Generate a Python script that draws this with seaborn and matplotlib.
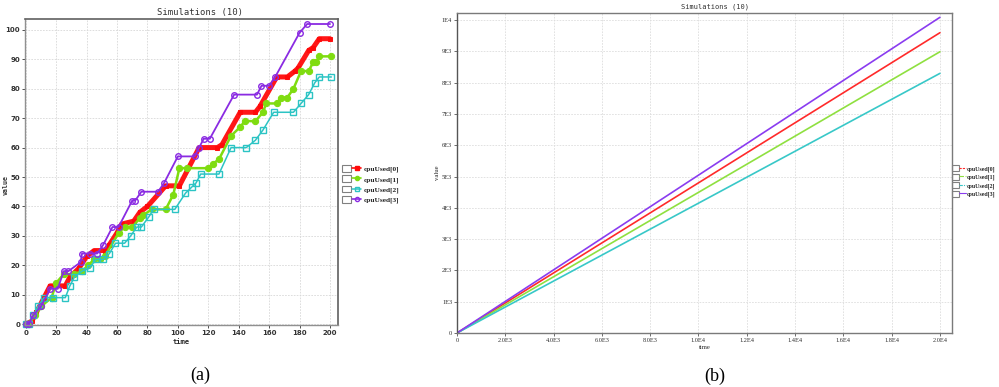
import matplotlib
matplotlib.use("Agg")
import matplotlib.pyplot as plt
import seaborn as sns
import pandas as pd
from matplotlib.patches import Rectangle
from matplotlib.lines import Line2D
from matplotlib.legend_handler import HandlerTuple

# ---------------- data: panel (a) ----------------
series_names = ["cpuUsed[0]", "cpuUsed[1]", "cpuUsed[2]", "cpuUsed[3]"]

t0 = [0, 4, 7, 12, 16, 26, 29, 35, 40, 45, 52, 55, 60, 63, 71, 75, 80, 92, 101,
      114, 126, 129, 141, 151, 154, 165, 172, 177, 179, 186, 189, 193, 200]
v0 = [0, 1, 4, 9, 13, 13, 16, 19, 23, 25, 25, 27, 31, 34, 35, 38, 40, 47, 47,
      60, 60, 61, 72, 72, 74, 84, 84, 86, 87, 93, 94, 97, 97]

t1 = [0, 2, 6, 10, 17, 20, 25, 32, 37, 41, 45, 49, 52, 61, 65, 70, 75, 77, 83, 92,
      97, 101, 106, 120, 123, 127, 135, 141, 144, 151, 156, 158, 165, 168, 172,
      176, 181, 186, 189, 191, 193, 201]
v1 = [0, 0, 3, 6, 9, 14, 17, 17, 18, 20, 22, 22, 23, 31, 33, 33, 36, 37, 39, 39,
      44, 53, 53, 53, 54.5, 56, 64, 67, 69, 69, 72, 75, 75, 77, 77,
      80, 86, 86, 89, 89, 91, 91]

t2 = [0, 2, 5, 8, 12, 18, 26, 29, 32, 37, 42, 46, 51, 55, 59, 65, 69, 73, 76, 81,
      84, 98, 105, 109, 112, 115, 127, 135, 145, 151, 156, 163, 176, 181, 186,
      190, 193, 201]
v2 = [0, 0, 3, 6, 9, 9, 9, 13, 16, 18, 19, 22, 22, 24, 27.5, 27.5, 30, 33, 33, 36.5,
      39, 39, 44.5, 46.5, 48, 51, 51, 60, 60, 62.5, 66, 72, 72, 75, 78,
      82, 84, 84]

t3 = [0, 2, 5, 10, 16, 21, 25, 28, 36, 37, 42, 47, 51, 57, 61, 70, 72, 76, 87, 91,
      100, 111, 114, 117, 121, 137, 152, 155, 160, 164, 180, 185, 200]
v3 = [0, 0, 3, 6, 12, 12, 18, 18, 21, 24, 24, 24, 27, 33, 33, 42, 42, 45, 45, 48,
      57, 57, 60, 63, 63, 78, 78, 81, 81, 84, 99, 102, 102]

xticks_a = [0, 20, 40, 60, 80, 100, 120, 140, 160, 180, 200]
yticks_a = [0, 10, 20, 30, 40, 50, 60, 70, 80, 90, 100]

# ---------------- data: panel (b) ----------------
time_b = [0, 20000]
b0 = [0, 9594]
b1 = [0, 8986]
b2 = [0, 8295]
b3 = [0, 10086]

xticks_b = [0, 2000, 4000, 6000, 8000, 10000, 12000, 14000, 16000, 18000, 20000]
xlabels_b = ["0", "2.0E3", "4.0E3", "6.0E3", "8.0E3", "1.0E4", "1.2E4", "1.4E4",
             "1.6E4", "1.8E4", "2.0E4"]
yticks_b = [0, 1000, 2000, 3000, 4000, 5000, 6000, 7000, 8000, 9000, 10000]
ylabels_b = ["0", "1E3", "2E3", "3E3", "4E3", "5E3", "6E3", "7E3", "8E3", "9E3", "1E4"]

# ---------------- styling ----------------
sns.set_style("white")
plt.rcParams["font.family"] = ["DejaVu Sans"]

cols_a = ["#ff0a0a", "#7fdc10", "#2cc4c4", "#8a2be2"]
cols_b = ["#ff2a2a", "#8fe040", "#38c8c8", "#8a3cf0"]

fig = plt.figure(figsize=(9.99, 3.87), dpi=100)
ax_a = fig.add_axes([25 / 999, 1 - 325 / 387, 313 / 999, 306 / 387])
ax_b = fig.add_axes([457 / 999, 1 - 333 / 387, 495 / 999, 320 / 387])

# panel (a)
style_a = [
    dict(lw=3.6, marker="s", ms=2.5, mfc=cols_a[0], mec=cols_a[0], alpha=0.95),
    dict(lw=1.8, marker="o", ms=4.5, mfc=cols_a[1], mec=cols_a[1]),
    dict(lw=1.1, marker="s", ms=4.0, mfc="none", mec=cols_a[2], mew=1.0),
    dict(lw=1.3, marker="o", ms=4.0, mfc="none", mec=cols_a[3], mew=1.0),
]
for ts, vs, c, st in zip([t0, t1, t2, t3], [v0, v1, v2, v3], cols_a, style_a):
    df = pd.DataFrame({"time": ts, "value": vs})
    sns.lineplot(data=df, x="time", y="value", ax=ax_a, color=c,
                 estimator=None, sort=False, clip_on=False, **st)

ax_a.set_xlim(-0.5, 205.3)
ax_a.set_ylim(-0.3, 103.7)
ax_a.set_xticks(xticks_a)
ax_a.set_yticks(yticks_a)
ax_a.tick_params(axis="both", labelsize=5, length=2, width=0.6, pad=1.5,
                 colors="#333333", direction="out", bottom=True, left=True)
for lab in ax_a.get_xticklabels() + ax_a.get_yticklabels():
    lab.set_fontweight("bold")
ax_a.grid(True, color="#d8d8d8", lw=0.6, ls=(0, (2, 1.5)))
ax_a.set_xlabel("time", family="DejaVu Sans Mono", fontsize=5, fontweight="bold",
                labelpad=2)
ax_a.set_ylabel("")
fig.text(6 / 999, 1 - 185 / 387, "value", family="DejaVu Sans Mono", fontsize=4.8,
         fontweight="bold", rotation=90, ha="center", va="center", color="#333333")
for side in ["left", "bottom"]:
    ax_a.spines[side].set_color("#909090")
    ax_a.spines[side].set_linewidth(1.0)
for side in ["top", "right"]:
    ax_a.spines[side].set_color("#606060")
    ax_a.spines[side].set_linewidth(1.2)

handles_a = []
for c, st in zip(cols_a, style_a):
    box = Rectangle((0, 0), 1, 1, facecolor="none", edgecolor="#808080", lw=0.8)
    ln = Line2D([], [], color=c, lw=min(st["lw"], 1.2), marker=st["marker"],
                ms=3, mfc=st["mfc"], mec=st["mec"])
    handles_a.append((box, ln))
fig.legend(handles_a, series_names, loc="upper left",
           bbox_to_anchor=(337 / 999, 1 - 160 / 387), frameon=False,
           handler_map={tuple: HandlerTuple(ndivide=None)},
           prop={"family": "Liberation Serif", "weight": "bold", "size": 5.3},
           handlelength=2.6, handleheight=1.0, handletextpad=0.4,
           labelspacing=0.4, borderpad=0.2)

# panel (b)
for vs, c in zip([b0, b1, b2, b3], cols_b):
    df = pd.DataFrame({"time": time_b, "value": vs})
    sns.lineplot(data=df, x="time", y="value", ax=ax_b, color=c, lw=1.2,
                 estimator=None)

ax_b.set_xlim(0, 20500)
ax_b.set_ylim(0, 10224)
ax_b.set_xticks(xticks_b)
ax_b.set_xticklabels(xlabels_b)
ax_b.set_yticks(yticks_b)
ax_b.set_yticklabels(ylabels_b)
ax_b.tick_params(axis="both", labelsize=4.6, length=2, width=0.5, pad=1.5,
                 colors="#333333", direction="out", bottom=True, left=True)
for lab in ax_b.get_xticklabels() + ax_b.get_yticklabels():
    lab.set_family("Liberation Serif")
ax_b.grid(True, color="#dddddd", lw=0.6, ls=(0, (2, 1.5)))
ax_b.set_xlabel("time", family="Liberation Serif", fontsize=4.8, labelpad=1.5)
ax_b.set_ylabel("value", family="Liberation Serif", fontsize=4.8, labelpad=1.5)
for side in ["left", "bottom", "top", "right"]:
    ax_b.spines[side].set_color("#7a7a7a")
    ax_b.spines[side].set_linewidth(1.0)
ax_b.spines["left"].set_color("#555555")

dash_styles = [(0, (2, 1)), (0, (4, 1.5)), (0, (3, 1, 1, 1)), "-"]
handles_b = []
for c, ds in zip(cols_b, dash_styles):
    box = Rectangle((0, 0), 1, 1, facecolor="none", edgecolor="#808080", lw=0.8)
    ln = Line2D([], [], color=c, lw=0.8, ls=ds)
    handles_b.append((box, ln))
fig.legend(handles_b, series_names, loc="upper left",
           bbox_to_anchor=(951 / 999, 1 - 164 / 387), frameon=False,
           handler_map={tuple: HandlerTuple(ndivide=None)},
           prop={"family": "Liberation Serif", "weight": "bold", "size": 4.2},
           handlelength=2.3, handleheight=1.2, handletextpad=0.25,
           labelspacing=0.35, borderpad=0.1, borderaxespad=0.1)

# titles and captions
fig.text(200 / 999, 1 - 13 / 387, "Simulations (10)", family="DejaVu Sans Mono",
         fontsize=6.4, ha="center", va="center", color="#333333")
fig.text(715 / 999, 1 - 7 / 387, "Simulations (10)", family="DejaVu Sans Mono",
         fontsize=5.0, ha="center", va="center", color="#333333")
fig.text(200 / 999, 1 - 375 / 387, "(a)", family="Liberation Serif", fontsize=13,
         ha="center", va="center", color="black")
fig.text(715 / 999, 1 - 376 / 387, "(b)", family="Liberation Serif", fontsize=13,
         ha="center", va="center", color="black")

fig.savefig("out.png", dpi=100, facecolor="white")
